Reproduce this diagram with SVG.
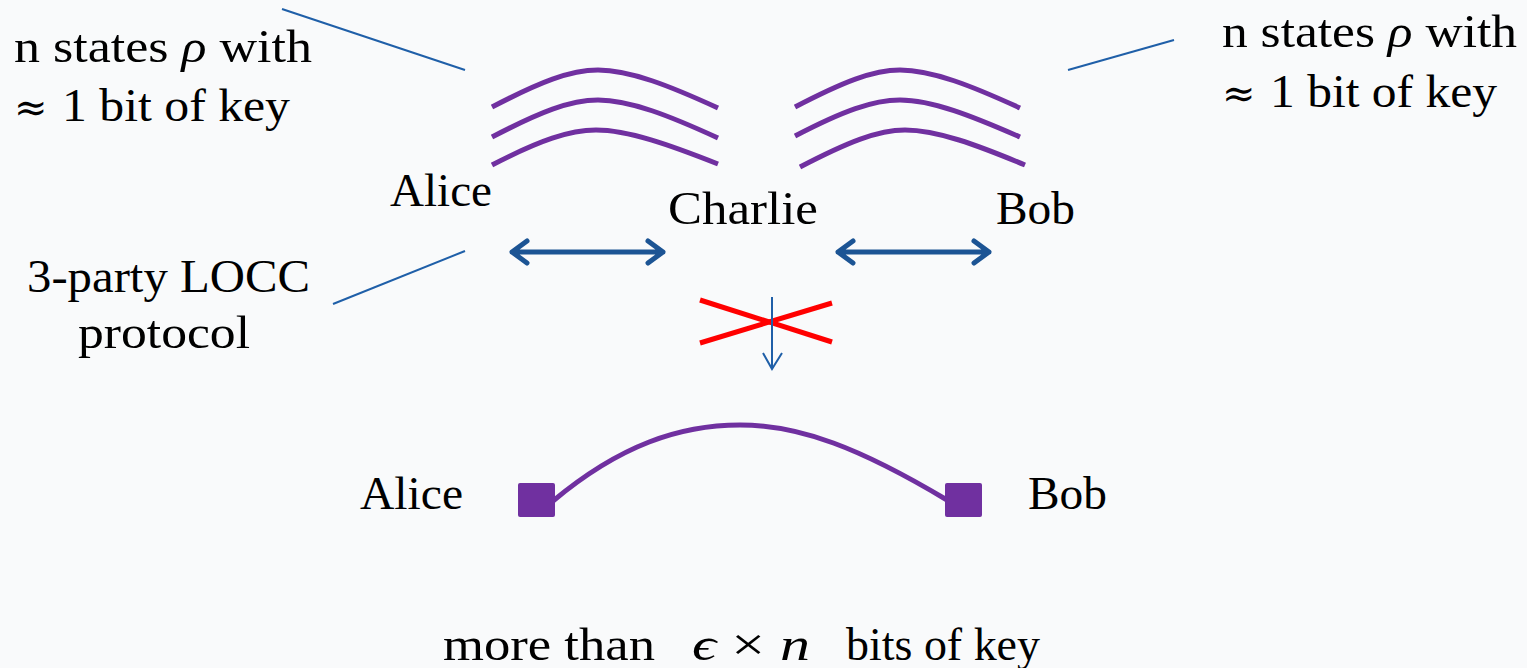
<svg xmlns="http://www.w3.org/2000/svg" width="1527" height="668" viewBox="0 0 1527 668">
<style>
.t{font-family:"Liberation Serif","DejaVu Serif",serif;font-size:46px;fill:#000}
.s{font-family:"DejaVu Serif","Liberation Serif",serif;font-size:40px;fill:#000}
.arc{fill:none;stroke:#7030a0;stroke-width:5}
.thin{fill:none;stroke:#1f5fa8;stroke-width:2}
.dbl{fill:none;stroke:#1c5494;stroke-width:5;stroke-linecap:round;stroke-linejoin:round}
.x{stroke:#ff0000;stroke-width:5}
</style>
<rect width="1527" height="668" fill="#f9fafb"/>
<g id="label-left-states">
<text class="t" x="14" y="62" textLength="298" lengthAdjust="spacingAndGlyphs">n states <tspan font-style="italic">ρ</tspan> with</text>
<text class="s" x="14" y="121">≈</text>
<text class="t" x="62" y="121" textLength="228" lengthAdjust="spacingAndGlyphs">1 bit of key</text>
</g>
<g id="label-right-states">
<text class="t" x="1222" y="47" textLength="295" lengthAdjust="spacingAndGlyphs">n states <tspan font-style="italic">ρ</tspan> with</text>
<text class="s" x="1222" y="107">≈</text>
<text class="t" x="1270" y="107" textLength="227" lengthAdjust="spacingAndGlyphs">1 bit of key</text>
</g>
<g id="label-locc">
<text class="t" x="27" y="292" textLength="283" lengthAdjust="spacingAndGlyphs">3-party LOCC</text>
<text class="t" x="78" y="348" textLength="172" lengthAdjust="spacingAndGlyphs">protocol</text>
</g>
<g id="alice-top"><text class="t" x="390" y="206" textLength="102" lengthAdjust="spacingAndGlyphs">Alice</text></g>
<g id="charlie"><text class="t" x="668" y="224" textLength="150" lengthAdjust="spacingAndGlyphs">Charlie</text></g>
<g id="bob-top"><text class="t" x="996" y="224" textLength="79" lengthAdjust="spacingAndGlyphs">Bob</text></g>
<g id="states-left">
<path class="arc" d="M492,107 C540,82 570,70 598,70 C630,70 670,86 718,108"/>
<path class="arc" d="M492,137 C540,112 570,100 598,100 C630,100 670,116 718,138"/>
<path class="arc" d="M492,165 C540,140 570,130 596,130 C628,130 670,145 718,164"/>
</g>
<g id="states-right">
<path class="arc" d="M795,107 C843,82 873,70 900,70 C932,70 972,86 1020,108"/>
<path class="arc" d="M795,136 C843,111 873,100 900,100 C932,100 972,116 1020,137"/>
<path class="arc" d="M800,167 C848,142 878,130 905,130 C937,130 977,145 1025,165"/>
</g>
<g id="alice-bottom">
<text class="t" x="360" y="509" textLength="103" lengthAdjust="spacingAndGlyphs">Alice</text>
<rect x="518" y="483" width="37" height="34" rx="2" fill="#7030a0"/>
</g>
<g id="bob-bottom">
<text class="t" x="1028" y="509" textLength="79" lengthAdjust="spacingAndGlyphs">Bob</text>
<rect x="945" y="483" width="37" height="34" rx="2" fill="#7030a0"/>
</g>
<g id="result">
<text class="t" x="443" y="660" textLength="212" lengthAdjust="spacingAndGlyphs">more than</text>
<text class="t" x="692" y="660" textLength="118" lengthAdjust="spacingAndGlyphs"><tspan font-style="italic">ϵ</tspan> × <tspan font-style="italic">n</tspan></text>
<text class="t" x="846" y="660" textLength="194" lengthAdjust="spacingAndGlyphs">bits of key</text>
</g>
<g id="connectors">
<line class="thin" x1="282" y1="9" x2="465" y2="70"/>
<line class="thin" x1="333" y1="304" x2="465" y2="251"/>
<line class="thin" x1="1068" y1="70" x2="1174" y2="40"/>
<path class="dbl" d="M512,252 H663 M527,241 L512,252 L527,263 M648,241 L663,252 L648,263"/>
<path class="dbl" d="M838,252 H989 M853,241 L838,252 L853,263 M974,241 L989,252 L974,263"/>
<path class="arc" d="M553,501 C620,445 680,425 740,425 C800,425 860,448 947,500"/>
<line class="x" x1="700" y1="300" x2="832" y2="342"/>
<line class="x" x1="700" y1="343" x2="832" y2="303"/>
<path class="thin" d="M772,297 V369 M763,353 L772,369 L782,353"/>
</g>
</svg>
